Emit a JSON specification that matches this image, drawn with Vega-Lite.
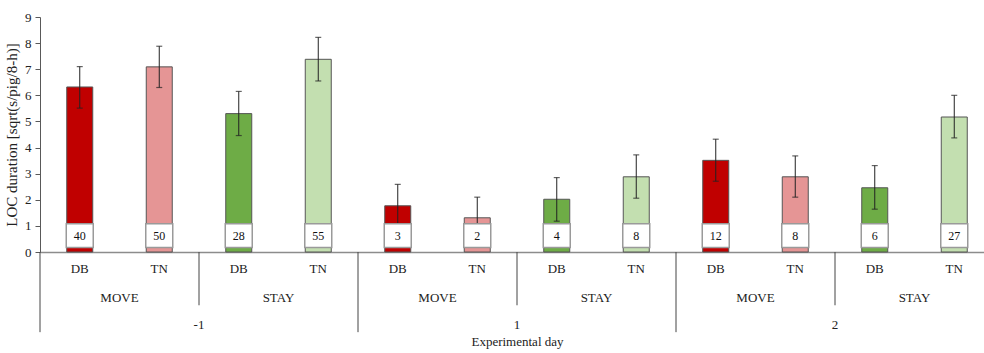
{
  "$schema": "https://vega.github.io/schema/vega-lite/v6.json",
  "width": 954,
  "height": 235,
  "autosize": {"type": "none"},
  "padding": {"left": 40, "top": 17, "right": -10, "bottom": 101},
  "config": {"view": {"stroke": null}},
  "resolve": {"axis": {"x": "independent", "y": "independent"}},
  "data": {"values": [
    {"day": "-1", "grp": "MOVE", "trt": "DB", "mean": 6.32, "lo": 5.51, "hi": 7.10, "n": 40},
    {"day": "-1", "grp": "MOVE", "trt": "TN", "mean": 7.09, "lo": 6.30, "hi": 7.88, "n": 50},
    {"day": "-1", "grp": "STAY", "trt": "DB", "mean": 5.30, "lo": 4.46, "hi": 6.15, "n": 28},
    {"day": "-1", "grp": "STAY", "trt": "TN", "mean": 7.38, "lo": 6.55, "hi": 8.22, "n": 55},
    {"day": "1", "grp": "MOVE", "trt": "DB", "mean": 1.77, "lo": 1.00, "hi": 2.59, "n": 3},
    {"day": "1", "grp": "MOVE", "trt": "TN", "mean": 1.31, "lo": 0.52, "hi": 2.10, "n": 2},
    {"day": "1", "grp": "STAY", "trt": "DB", "mean": 2.02, "lo": 1.18, "hi": 2.85, "n": 4},
    {"day": "1", "grp": "STAY", "trt": "TN", "mean": 2.88, "lo": 2.06, "hi": 3.72, "n": 8},
    {"day": "2", "grp": "MOVE", "trt": "DB", "mean": 3.51, "lo": 2.71, "hi": 4.32, "n": 12},
    {"day": "2", "grp": "MOVE", "trt": "TN", "mean": 2.88, "lo": 2.10, "hi": 3.68, "n": 8},
    {"day": "2", "grp": "STAY", "trt": "DB", "mean": 2.46, "lo": 1.64, "hi": 3.31, "n": 6},
    {"day": "2", "grp": "STAY", "trt": "TN", "mean": 5.17, "lo": 4.37, "hi": 6.00, "n": 27}
  ]},
  "transform": [
    {"calculate": "datum.day + '|' + datum.grp + '|' + datum.trt", "as": "cell"},
    {"calculate": "datum.grp + ' ' + datum.trt", "as": "series"}
  ],
  "layer": [
    {
      "mark": {"type": "bar", "width": 26, "stroke": "#555555", "strokeWidth": 1},
      "encoding": {
        "x": {"field": "cell", "type": "nominal", "sort": null, "scale": {"paddingInner": 0, "paddingOuter": 0},
          "axis": {
            "title": "Experimental day", "titleFont": "Liberation Serif", "titleFontSize": 13, "titleFontWeight": "normal", "titleColor": "#222", "titlePadding": 60,
            "labelExpr": "split(datum.value, '|')[2]", "labelAngle": 0, "labelFontSize": 13, "labelFont": "Liberation Serif", "labelColor": "#222", "labelPadding": 10,
            "ticks": false, "grid": false, "domainColor": "#8c8c8c", "domainWidth": 1.5
          }},
        "y": {"field": "mean", "type": "quantitative", "scale": {"domain": [0, 9], "nice": false},
          "axis": {
            "title": "LOC duration [sqrt(s/pig/8-h)]", "titleFont": "Liberation Serif", "titleFontSize": 15, "titleFontWeight": "normal", "titleColor": "#222", "titlePadding": 5,
            "values": [0, 1, 2, 3, 4, 5, 6, 7, 8, 9], "labelFontSize": 13, "labelFont": "Liberation Serif", "labelColor": "#222", "labelOverlap": false, "labelPadding": 4,
            "tickSize": 5, "tickColor": "#595959", "domainColor": "#595959", "grid": false
          }},
        "color": {
          "field": "series", "type": "nominal", "legend": null,
          "scale": {"domain": ["MOVE DB", "MOVE TN", "STAY DB", "STAY TN"], "range": ["#C00000", "#E59595", "#6EAC46", "#C3DFB0"]}
        }
      }
    },
    {
      "mark": {"type": "rule", "color": "#222222", "strokeWidth": 1},
      "encoding": {
        "x": {"field": "cell", "type": "nominal", "sort": null, "axis": null},
        "y": {"field": "lo", "type": "quantitative", "axis": null},
        "y2": {"field": "hi"}
      }
    },
    {
      "mark": {"type": "tick", "color": "#222222", "thickness": 1.2, "size": 6, "orient": "horizontal"},
      "encoding": {
        "x": {"field": "cell", "type": "nominal", "sort": null, "axis": null},
        "y": {"field": "lo", "type": "quantitative", "axis": null}
      }
    },
    {
      "mark": {"type": "tick", "color": "#222222", "thickness": 1.2, "size": 6, "orient": "horizontal"},
      "encoding": {
        "x": {"field": "cell", "type": "nominal", "sort": null, "axis": null},
        "y": {"field": "hi", "type": "quantitative", "axis": null}
      }
    },
    {
      "mark": {"type": "bar", "width": 27, "fill": "white", "stroke": "#9a9a9a", "strokeWidth": 1.5},
      "encoding": {
        "x": {"field": "cell", "type": "nominal", "sort": null, "axis": null},
        "y": {"datum": 0.17, "axis": null},
        "y2": {"datum": 1.08}
      }
    },
    {
      "mark": {"type": "text", "fontSize": 12, "color": "#111111", "font": "Liberation Serif"},
      "encoding": {
        "x": {"field": "cell", "type": "nominal", "sort": null, "axis": null},
        "y": {"datum": 0.62, "axis": null},
        "text": {"field": "n", "type": "quantitative"}
      }
    },
    {
      "transform": [{"filter": "datum.trt == 'DB'"}],
      "mark": {"type": "text", "fontSize": 13, "color": "#222222", "font": "Liberation Serif"},
      "encoding": {
        "x": {"field": "cell", "type": "nominal", "sort": null, "bandPosition": 1, "axis": null},
        "y": {"datum": -1.75, "axis": null},
        "text": {"field": "grp"}
      }
    },
    {
      "transform": [{"filter": "datum.grp == 'MOVE' && datum.trt == 'TN'"}],
      "mark": {"type": "text", "fontSize": 13, "color": "#222222", "font": "Liberation Serif"},
      "encoding": {
        "x": {"field": "cell", "type": "nominal", "sort": null, "bandPosition": 1, "axis": null},
        "y": {"datum": -2.78, "axis": null},
        "text": {"field": "day"}
      }
    },
    {
      "transform": [{"filter": "datum.grp == 'MOVE' && datum.trt == 'TN'"}],
      "mark": {"type": "rule", "color": "#444444", "strokeWidth": 1},
      "encoding": {
        "x": {"field": "cell", "type": "nominal", "sort": null, "bandPosition": 1, "axis": null},
        "y": {"datum": 0, "axis": null},
        "y2": {"datum": -2.04}
      }
    },
    {
      "transform": [{"filter": "datum.grp == 'MOVE' && datum.trt == 'DB'"}],
      "mark": {"type": "rule", "color": "#444444", "strokeWidth": 1},
      "encoding": {
        "x": {"field": "cell", "type": "nominal", "sort": null, "bandPosition": 0, "axis": null},
        "y": {"datum": 0, "axis": null},
        "y2": {"datum": -3.07}
      }
    }
  ]
}
